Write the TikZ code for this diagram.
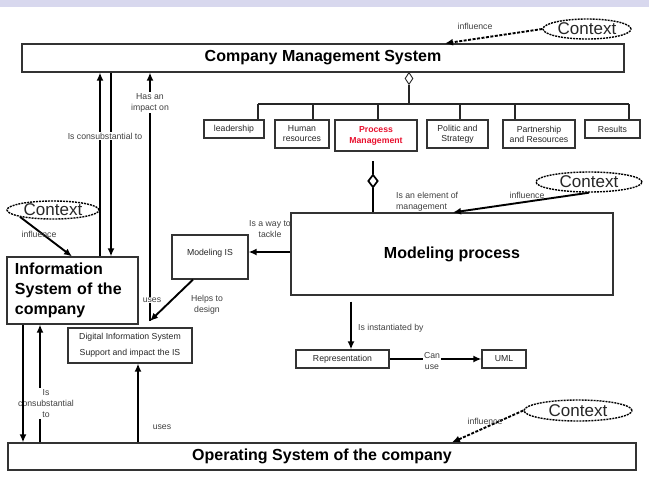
\documentclass[tikz,border=0pt]{standalone}
\usepackage{fontspec}
\setmainfont{Liberation Sans}
\usetikzlibrary{shapes.geometric,arrows.meta}
\definecolor{band}{HTML}{D8D8EE}
\definecolor{pmred}{HTML}{E8102E}
\newcommand{\smf}{\fontsize{8.7}{11}\selectfont}
\newcommand{\bgf}{\fontsize{16}{20}\selectfont\bfseries}
\tikzset{
  box/.style={draw=black!80, line width=1.2pt, inner sep=0pt, align=center, font=\smf, text=black!85},
  bigbox/.style={box, font=\bgf, text=black},
  ln/.style={draw=black!85, line width=1.2pt},
  arr/.style={draw=black, line width=1.9pt, -{Latex[length=8pt,width=7pt]}},
  dsh/.style={dash pattern=on 3pt off 1.5pt},
  lab/.style={font=\smf, text=black!75, inner sep=1pt, align=center},
  lbw/.style={lab, fill=white},
  ctx/.style={ellipse, draw=black, line width=1.4pt, dash pattern=on 2pt off 1pt, inner sep=0pt, font=\fontsize{17}{17}\selectfont, text=black!85},
}
\begin{document}
\begin{tikzpicture}[x=1pt,y=-1pt]
\useasboundingbox (0,0) rectangle (649,491);
\fill[band] (0,0) rectangle (649,7);

% main boxes
\node[bigbox, minimum width=602pt, minimum height=28pt] (cms) at (323,58) {Company Management System};
\node[bigbox, minimum width=628pt, minimum height=27pt] (os) at (322,456.5) {Operating System of the company};
\node[bigbox, minimum width=131pt, minimum height=67pt, align=left, text width=115pt] (is) at (72.5,290.5) {Information\\System of the\\company};
\node[bigbox, minimum width=322pt, minimum height=82pt] (mp) at (452,254) {Modeling process};
\node[box, minimum width=76pt, minimum height=44pt, text height=20pt, text depth=24pt] (mis) at (210,257) {Modeling IS};
\node[box, minimum width=124pt, minimum height=35pt] (dis) at (130,345.5) {Digital Information System\\[5pt]Support and impact the IS};

% sub boxes
\node[box, minimum width=60pt, minimum height=18pt] (lead) at (234,129) {leadership};
\node[box, minimum width=54pt, minimum height=28pt] (hr) at (302,134) {Human\\[-1pt]resources};
\node[box, minimum width=82pt, minimum height=31pt, font=\smf\bfseries, text=pmred] (pm) at (376,135.5) {Process\\Management};
\node[box, minimum width=61pt, minimum height=28pt] (pol) at (457.5,134) {Politic and\\[-1pt]Strategy};
\node[box, minimum width=72pt, minimum height=28pt] (part) at (539,134) {Partnership\\[-1pt]and Resources};
\node[box, minimum width=55pt, minimum height=18pt] (res) at (612.5,129) {Results};
\node[box, minimum width=93pt, minimum height=18pt] (rep) at (342.5,359) {Representation};
\node[box, minimum width=44pt, minimum height=18pt] (uml) at (504,359) {UML};

% aggregation tree
\node[diamond, draw=black!85, fill=white, line width=0.9pt, minimum width=8pt, minimum height=12pt, inner sep=0pt, anchor=north] (dia) at (409,72) {};
\coordinate (bL) at (258,104);
\coordinate (bR) at (629,104);
\draw[ln] (dia.south) -- (dia.south |- bL);
\draw[ln] (bL) -- (bR);
\foreach \n/\x in {lead/258,hr/313,pm/378,pol/460,part/515,res/629}{
  \coordinate (t\n) at (\x,104);
  \draw[ln] (t\n) -- (t\n |- \n.north);
}

% process management -> modeling process
\node[diamond, draw=black, fill=white, line width=1.7pt, minimum width=10pt, minimum height=13pt, inner sep=0pt] (pdia) at (373,181) {};
\draw[line width=1.7pt] (pdia.north) -- ([yshift=-9pt]pdia.north |- pm.south);
\draw[line width=1.7pt] (pdia.south) -- (pdia.south |- mp.north);

% helper x positions
\coordinate (v23) at (23,0);
\coordinate (v40) at (40,0);
\coordinate (v72) at (72,0);
\coordinate (v100) at (100,0);
\coordinate (v111) at (111,0);
\coordinate (v138) at (138,0);
\coordinate (v193) at (193,0);
\coordinate (v351) at (351,0);
\coordinate (v445) at (445,0);
\coordinate (v452) at (452,0);
\coordinate (v453) at (453,0);
\coordinate (h252) at (0,252);
\coordinate (uend) at (150,321);

% IS <-> CMS
\draw[arr] (is.north -| v100) -- (cms.south -| v100);
\draw[arr] (cms.south -| v111) -- (is.north -| v111);
\draw[arr] (uend) -- (uend |- cms.south);
\node[lbw] at (105,136) {Is consubstantial to};
\node[lbw] at (150,102.5) {Has an\\impact on};
\node[lbw] at (152,300) {uses};

% Modeling process -> Modeling IS -> digital IS
\draw[arr] (mp.west |- h252) -- (mis.east |- h252);
\node[lab] at (270,229) {Is a way to\\tackle};
\draw[arr] (mis.south -| v193) -- (uend);
\node[lab] at (207,305) {Helps to\\design};

% IS <-> OS
\draw[arr] (os.north -| v40) -- (is.south -| v40);
\node[lbw] at (46,403.5) {Is\\consubstantial\\to};
\draw[arr] (is.south -| v23) -- (os.north -| v23);
\draw[arr] (os.north -| v138) -- (dis.south -| v138);
\node[lab] at (162,427) {uses};

% Modeling process -> Representation -> UML
\draw[arr] ([yshift=-6pt]mp.south -| v351) -- (rep.north -| v351);
\node[lab, anchor=west] at (357,328) {Is instantiated by};
\draw[arr] (rep.east) -- (uml.west);
\node[lbw] at (432,360.5) {Can\\use};

% contexts
\node[ctx, minimum width=88pt, minimum height=20pt] (c1) at (587,29) {Context};
\node[ctx, minimum width=106pt, minimum height=20pt] (c2) at (589,182) {Context};
\node[ctx, minimum width=108pt, minimum height=21pt] (c3) at (578,410.5) {Context};
\node[ctx, minimum width=92pt, minimum height=18pt] (c4) at (53,210) {Context};

\draw[arr, dsh] (c1.west) -- (cms.north -| v445);
\node[lab] at (475,26) {influence};
\draw[arr] (c2.south) -- (mp.north -| v453);
\node[lab] at (527,195) {influence};
\node[lab, align=left, anchor=west] at (395,201.5) {Is an element of\\management};
\draw[arr, dsh] (c3.west) -- (os.north -| v452);
\node[lab] at (485,421) {influence};
\draw[arr] (c4.south west) -- (is.north -| v72);
\node[lab] at (39,234) {influence};
\end{tikzpicture}
\end{document}
